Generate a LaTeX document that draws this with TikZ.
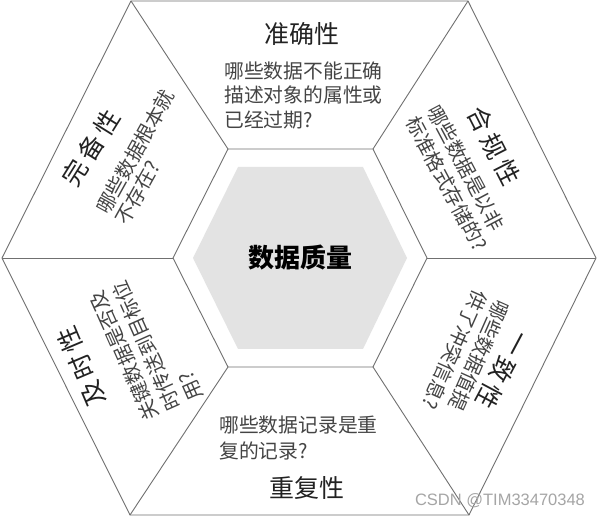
\documentclass[tikz,border=0pt]{standalone}
\usepackage{fontspec}
\setmainfont{Noto Sans CJK SC}
\newfontfamily\wmfont{Liberation Sans}
\definecolor{edgecol}{RGB}{112,112,112}
\definecolor{shadecol}{RGB}{227,227,227}
\definecolor{bodycol}{RGB}{68,68,68}
\definecolor{titlecol}{RGB}{34,34,34}
\definecolor{wmcol}{RGB}{165,165,165}
\newcommand{\tgap}{\kern4.5pt}
\tikzset{
  edgeline/.style={draw=edgecol, line width=0.9pt, line join=round},
  titletext/.style={font=\fontsize{25}{28}\selectfont, text=titlecol, inner sep=0pt},
  bodytext/.style={font=\fontsize{19.8}{24.5}\selectfont, text=bodycol, align=left, inner sep=0pt},
  centertext/.style={font=\fontsize{26}{30}\selectfont\bfseries, text=black, inner sep=0pt},
}
\begin{document}
\begin{tikzpicture}[x=1pt,y=-1pt]
\useasboundingbox (0,0) rectangle (600,518);
\fill[white] (0,0) rectangle (600,518);
% outer hexagon
\coordinate (o1) at (131,1);
\coordinate (o2) at (468,1);
\coordinate (o3) at (596,258);
\coordinate (o4) at (469,515);
\coordinate (o5) at (130,515);
\coordinate (o6) at (2,258);
% inner hexagon
\coordinate (i1) at (228,149);
\coordinate (i2) at (373,149);
\coordinate (i3) at (427,258);
\coordinate (i4) at (373,367);
\coordinate (i5) at (228,367);
\coordinate (i6) at (173,258);
% shaded core
\coordinate (s1) at (238,167);
\coordinate (s2) at (363,167);
\coordinate (s3) at (407,258);
\coordinate (s4) at (363,349);
\coordinate (s5) at (238,349);
\coordinate (s6) at (193,258);
\fill[shadecol] (s1) -- (s2) -- (s3) -- (s4) -- (s5) -- (s6) -- cycle;
\draw[edgeline] (o1) -- (o2) -- (o3) -- (o4) -- (o5) -- (o6) -- cycle;
\draw[edgeline] (i1) -- (i2) -- (i3) -- (i4) -- (i5) -- (i6) -- cycle;
\draw[edgeline] (o1) -- (i1);
\draw[edgeline] (o2) -- (i2);
\draw[edgeline] (o3) -- (i3);
\draw[edgeline] (o4) -- (i4);
\draw[edgeline] (o5) -- (i5);
\draw[edgeline] (o6) -- (i6);
% center
\node[centertext] (core) at (300.5,258) {数据质量};
% top
\node[titletext] (t1) at (301.5,34) {准确性};
\node[bodytext, anchor=west] (b1) at (224,95) {哪些数据不能正确\\描述对象的属性或\\已经过期?};
% upper right
\node[titletext, rotate=-63] (t2) at (494,146) {合\tgap 规\tgap 性};
\node[bodytext, rotate=-62] (b2) at (457.5,178) {哪些数据是以非\\标准格式存储的?};
% lower right
\node[titletext, rotate=-118] (t3) at (503,370) {一\tgap 致\tgap 性};
\node[bodytext, rotate=-114] (b3) at (466,355) {哪些数据值提\\供了冲突信息?};
% bottom
\node[titletext] (t4) at (306.5,488) {重复性};
\node[bodytext, anchor=west, font=\fontsize{19.8}{26}\selectfont] (b4) at (219,438) {哪些数据记录是重\\复的记录?};
% lower left
\node[titletext, rotate=113] (t5) at (81.5,366.5) {及\tgap 时\tgap 性};
\node[bodytext, rotate=114] (b5) at (146.5,346) {关键数据是否及\\时传送到目标位\\用?};
% upper left
\node[titletext, rotate=58] (t6) at (91,148) {完\tgap 备\tgap 性};
\node[bodytext, rotate=61, font=\fontsize{19.8}{22}\selectfont] (b6) at (145,157) {哪些数据根本就\\不存在?};
% watermark
\node[font=\wmfont\fontsize{16.5}{18}\selectfont, text=wmcol, inner sep=0pt] (wm) at (500,501) {CSDN @TIM33470348};
\end{tikzpicture}
\end{document}
